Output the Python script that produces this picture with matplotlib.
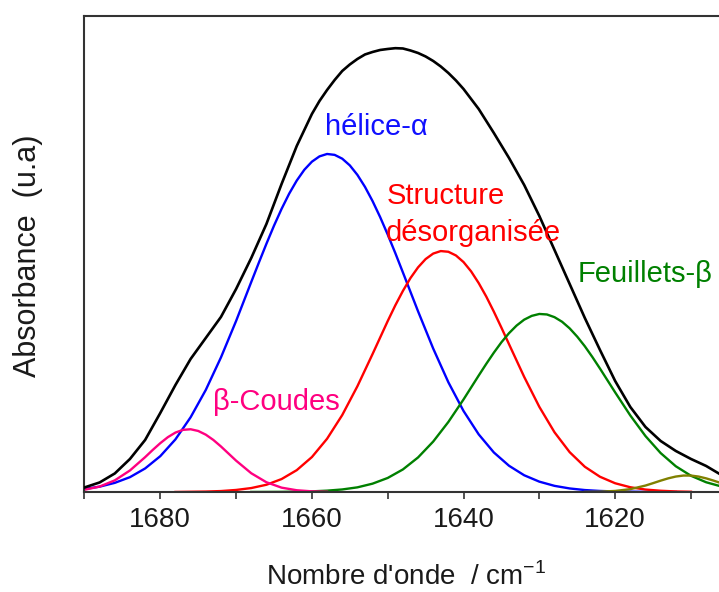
import matplotlib
matplotlib.use("Agg")
import matplotlib.pyplot as plt

plt.rcParams['font.family'] = ['Liberation Sans', 'DejaVu Sans']
plt.rcParams['mathtext.fontset'] = 'custom'
plt.rcParams['mathtext.rm'] = 'Liberation Sans'

# measured amide I band (black), wavenumber in cm-1
total_x = [1690, 1688, 1686, 1684, 1682, 1680, 1678, 1676, 1674, 1672,
           1670, 1668, 1666, 1664, 1662, 1660,
           1659, 1658, 1657, 1656, 1655, 1654, 1653, 1652, 1651, 1650,
           1649, 1648, 1647, 1646, 1645, 1644, 1643, 1642, 1641,
           1640, 1638, 1636, 1634, 1632, 1630, 1628, 1626, 1624, 1622,
           1620, 1618, 1616, 1614, 1612, 1610, 1608, 1606]
total_y = [4.5, 9.5, 18.5, 33, 52, 79, 107, 133, 154, 175,
           203, 234, 268, 308, 346, 378,
           391, 402, 412, 421, 427.5, 433, 437.5, 440, 442, 443,
           443.8, 443.5, 441.5, 439, 435.5, 431, 425.5, 419, 411.5,
           403, 383, 359, 334, 307, 276, 242, 208, 174, 142,
           111, 85, 65, 51, 41, 33, 26, 17]

# fitted components
helice_x = [1690, 1688, 1686, 1684, 1682, 1680, 1678, 1676, 1674, 1672,
            1670, 1668,
            1667, 1666, 1665, 1664, 1663, 1662, 1661, 1660, 1659, 1658,
            1657, 1656, 1655, 1654, 1653, 1652, 1651, 1650, 1649,
            1648, 1646, 1644, 1642, 1640, 1638, 1636, 1634, 1632, 1630,
            1628, 1626, 1624, 1622, 1620, 1618, 1616, 1614, 1612]
helice_y = [3.0, 5.3, 9.1, 14.8, 23.5, 35.8, 52.6, 74.7, 102.0, 134.5,
            171.0, 210.0,
            229.3, 248.2, 266.3, 283.1, 298.3, 311.4, 322.2, 330.3, 335.6, 338.0,
            337.1, 333.3, 326.6, 317.1, 305.1, 290.9, 274.9, 257.4, 238.9,
            219.6, 180.7, 143.4, 109.7, 81.0, 57.6, 39.5, 26.2, 16.7, 10.3,
            6.1, 3.5, 1.9, 1.0, 0.5, 0.3, 0.1, 0.0, 0.0]

desorg_x = [1678, 1676, 1674, 1672, 1670, 1668, 1666, 1664, 1662, 1660,
            1658, 1656, 1654, 1652, 1650,
            1649, 1648, 1647, 1646, 1645, 1644, 1643, 1642, 1641, 1640,
            1639, 1638, 1637, 1636, 1635,
            1634, 1632, 1630, 1628, 1626, 1624, 1622, 1620, 1618, 1616,
            1614, 1612, 1610]
desorg_y = [0.0, 0.2, 0.4, 0.9, 2.0, 3.9, 7.2, 12.9, 21.8, 34.9,
            53.2, 76.9, 105.7, 137.9, 170.9,
            186.6, 201.0, 213.9, 224.6, 232.9, 238.4, 240.9, 240.2, 236.5, 229.9,
            220.6, 208.9, 195.4, 180.3, 164.3,
            147.8, 115.1, 85.1, 59.7, 39.8, 25.2, 15.2, 8.7, 4.7, 2.4,
            1.2, 0.5, 0.2]

feuillets_x = [1668, 1666, 1664, 1662, 1660, 1658, 1656, 1654, 1652, 1650,
               1648, 1646, 1644, 1642, 1640, 1638,
               1637, 1636, 1635, 1634, 1633, 1632, 1631, 1630, 1629, 1628,
               1627, 1626, 1625, 1624, 1623,
               1622, 1620, 1618, 1616, 1614, 1612, 1610, 1608, 1606]
feuillets_y = [0.0, 0.05, 0.1, 0.3, 0.6, 1.3, 2.5, 4.6, 8.3, 14.0,
               22.5, 34.5, 50.4, 70.0, 92.5, 116.4,
               128.1, 139.3, 149.7, 158.8, 166.4, 172.3, 176.1, 178.0, 177.5, 174.8,
               170.2, 163.6, 155.3, 145.7, 134.9,
               123.4, 99.6, 76.5, 55.9, 38.9, 25.7, 16.2, 9.7, 5.5]

coudes_x = [1690, 1688, 1686, 1684, 1682,
            1681, 1680, 1679, 1678, 1677, 1676, 1675, 1674, 1673, 1672, 1671,
            1670, 1668, 1666, 1664, 1662, 1660, 1658]
coudes_y = [2.2, 5.4, 11.6, 21.5, 34.8,
            42.0, 48.8, 54.8, 59.4, 62.1, 62.7, 61.0, 57.3, 52.0, 45.5, 38.4,
            31.3, 18.7, 9.7, 4.3, 1.7, 0.6, 0.2]

chaines_x = [1624, 1622, 1620, 1618, 1616, 1615, 1614, 1613, 1612, 1611,
             1610, 1609, 1608, 1607, 1606]
chaines_y = [0.1, 0.3, 1.0, 2.8, 6.4, 8.8, 11.3, 13.6, 15.4, 16.4,
             16.4, 15.4, 13.6, 11.3, 8.8]

fig = plt.figure(figsize=(7.19, 5.92), dpi=100)
ax = fig.add_axes([0.1175, 0.169, 0.8825, 0.804])

ax.plot(total_x, total_y, color='black', lw=1.9, zorder=3,
        solid_joinstyle='round')
ax.plot(helice_x, helice_y, color='#0000ff', lw=1.7, zorder=2,
        solid_joinstyle='round')
ax.plot(desorg_x, desorg_y, color='#ff0000', lw=1.7, zorder=2,
        solid_joinstyle='round')
ax.plot(feuillets_x, feuillets_y, color='#008000', lw=1.7, zorder=2,
        solid_joinstyle='round')
ax.plot(coudes_x, coudes_y, color='#ff0080', lw=1.7, zorder=2,
        solid_joinstyle='round')
ax.plot(chaines_x, chaines_y, color='#808000', lw=1.7, zorder=2,
        solid_joinstyle='round')

ax.set_xlim(1690, 1606.3)
ax.set_ylim(0, 476)

ax.spines['right'].set_visible(False)
for s in ['left', 'top', 'bottom']:
    ax.spines[s].set_color('#333333')
    ax.spines[s].set_linewidth(1.5)

ax.set_xticks([1680, 1660, 1640, 1620])
ax.set_xticks([1690, 1670, 1650, 1630, 1610], minor=True)
ax.tick_params(axis='x', which='both', direction='out', length=5, width=1.2,
               color='#333333', labelsize=20, labelcolor='#1a1a1a', pad=6)
ax.set_yticks([])

# labels on the peaks
ax.text(1651.5, 365, 'hélice-α', color='#1010ff', fontsize=21,
        ha='center', va='center')
ax.text(1650.2, 296, 'Structure', color='#ff0000', fontsize=21,
        ha='left', va='center')
ax.text(1650.2, 259, 'désorganisée', color='#ff0000', fontsize=21,
        ha='left', va='center')
ax.text(1625.0, 218, 'Feuillets-β', color='#008000', fontsize=21,
        ha='left', va='center')
ax.text(1673.0, 90, 'β-Coudes', color='#ff0080', fontsize=21,
        ha='left', va='center')

fig.text(28 / 719, 1 - 256 / 592, 'Absorbance  (u.a)', rotation=90,
         fontsize=22, color='#1a1a1a', ha='center', va='center')
fig.text(406 / 719, 1 - 577 / 592, "Nombre d'onde  / cm$^{\\mathregular{-1}}$",
         fontsize=20, color='#1a1a1a', ha='center', va='center')

fig.savefig('out.png', dpi=100)
